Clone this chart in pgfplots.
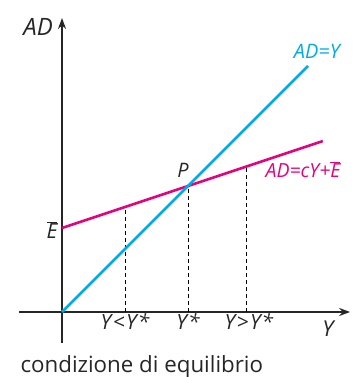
\documentclass[border=0pt]{standalone}
\usepackage{pgfplots}
\pgfplotsset{compat=1.18}
\usetikzlibrary{arrows.meta}
\usepackage{fontspec}
\setmainfont{Open Sans}
\definecolor{adblue}{RGB}{0,170,235}
\definecolor{admag}{RGB}{230,0,130}
\newcommand{\fs}[1]{\fontsize{#1}{#1}\selectfont}
\newcommand{\tl}{\fs{21}\itshape}
\begin{document}
\begin{tikzpicture}
\begin{axis}[
  x=42bp, y=42bp,
  anchor=origin, at={(0,0)},
  axis lines=middle,
  xmin=-1.02, xmax=6.86, ymin=-0.74, ymax=7.0,
  axis line style={line width=1.8bp, draw=black!85},
  every inner x axis line/.append style={-{Stealth[length=11bp,width=8bp]}},
  every inner y axis line/.append style={-{Stealth[length=11bp,width=8bp]}},
  xtick={1.5,3,4.45},
  xticklabels={{\tl Y\kern1.5bp<\kern1.5bp Y\kern1bp*}, {\tl Y\kern1bp*}, {\tl Y\kern1.5bp>\kern1.5bp Y\kern1bp*}},
  ytick={2}, yticklabels={{\fs{21}$\overline{\textit{E}}$}},
  major tick length=0pt,
  tick label style={text=black!85},
  xticklabel style={yshift=2bp},
  yticklabel style={xshift=-1bp, yshift=-2bp},
  clip=false,
]
% reference lines from the axis to the curves
\addplot[black, line width=1bp, dash pattern=on 4bp off 3bp] coordinates {(1.5,0) (1.5,2.5)};
\addplot[black, line width=1bp, dash pattern=on 4bp off 3bp] coordinates {(3,0) (3,3)};
\addplot[black, line width=1bp, dash pattern=on 4bp off 3bp] coordinates {(4.4,0) (4.4,3.467)};
% aggregate demand and the 45-degree line
\addplot[admag, line width=2.6bp] coordinates {(0,2) (6.21,4.07)};
\addplot[adblue, line width=2.6bp] coordinates {(0,0) (5.86,5.86)};
\node[font=\fs{24}\itshape, text=black!85] at (axis cs:-0.57,6.78) {AD};
\node[font=\fs{22}\itshape, text=black!85] at (axis cs:6.33,-0.4) {Y};
\node[font=\fs{20}\itshape, text=black!85] at (axis cs:2.88,3.37) {P};
\node[font=\fs{20}\itshape, text=adblue] at (axis cs:6.07,6.2) {AD=Y};
\node[font=\fs{19.5}\itshape, text=admag] at (axis cs:5.74,3.38) {AD=\textit{c}Y+$\overline{\textit{E}}$};
\end{axis}
\node[anchor=base west, font=\fs{22.4}, text=black!85] at (-45bp,-60bp) {condizione di equilibrio};
\pgfresetboundingbox
\useasboundingbox (-62bp,-65bp) rectangle (295bp,312bp);
\end{tikzpicture}
\end{document}
